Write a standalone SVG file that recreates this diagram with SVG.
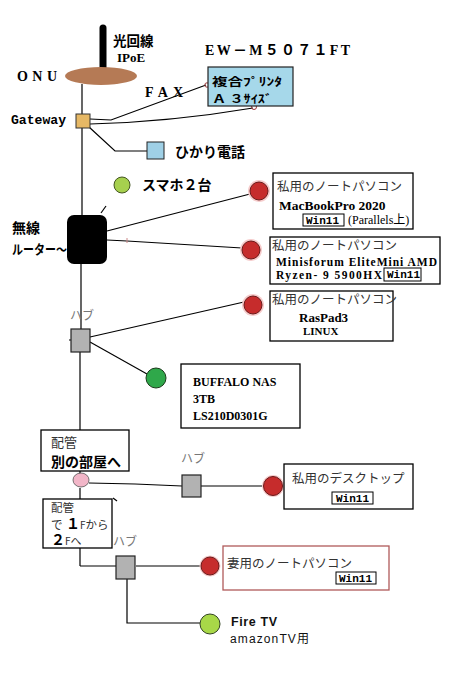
<svg xmlns="http://www.w3.org/2000/svg" width="460" height="689" viewBox="0 0 460 689">
<style>
.ln{stroke:#000;stroke-width:1.2;fill:none}
.bx{fill:#fff;stroke:#000;stroke-width:1.3}
.hub{fill:#b2b2b2;stroke:#222;stroke-width:1.2}
.red{fill:#c62c2c;stroke:#6a1a1a;stroke-width:1}
.halo{fill:#f6cccc}
.jb{font-family:"Noto Sans CJK JP","Liberation Sans",sans-serif;font-weight:bold;fill:#000}
.jn{font-family:"Noto Sans CJK JP","Liberation Sans",sans-serif;fill:#333}
.sb{font-family:"Liberation Serif","Noto Sans CJK JP",serif;font-weight:bold;fill:#000}
.sn{font-family:"Liberation Serif","Noto Sans CJK JP",serif;fill:#000}
.mb{font-family:"Liberation Mono",monospace;font-weight:bold;fill:#000}
.hl{font-family:"Noto Sans CJK JP",sans-serif;fill:#777;font-size:12px}
.win{fill:#fff;stroke:#000;stroke-width:1}
.wt{font-family:"Liberation Mono",monospace;font-weight:bold;font-size:11px;fill:#000}
.ls{font-family:"Liberation Sans","Noto Sans CJK JP",sans-serif;fill:#111}
</style>
<g id="connectors">
<line class="ln" x1="82" y1="84" x2="82" y2="114"/>
<line class="ln" x1="82" y1="128" x2="82" y2="215"/>
<line class="ln" x1="81" y1="264" x2="81" y2="329"/>
<line class="ln" x1="80" y1="352" x2="80" y2="474"/>
<line class="ln" x1="80" y1="488" x2="80" y2="566"/>
<polyline class="ln" points="80,566 116,566"/>
<polyline class="ln" points="90,119 111,120 206,85"/>
<circle cx="207" cy="85" r="2.2" fill="none" stroke="#a03c3c" stroke-width="1"/>
<path class="ln" d="M90,124 Q170,122 253,108"/>
<circle cx="254" cy="107" r="2.5" fill="none" stroke="#a03c3c" stroke-width="1"/>
<polyline class="ln" points="89,127 115,151 147,151"/>
<line class="ln" x1="101" y1="213" x2="106" y2="206"/>
<line class="ln" x1="107" y1="231" x2="250" y2="194"/>
<polyline class="ln" points="107,240 127,241 242,248"/>
<line x1="127" y1="238" x2="127" y2="243" stroke="#c88" stroke-width="1"/>
<line class="ln" x1="90" y1="337" x2="244" y2="302"/>
<line class="ln" x1="90" y1="342" x2="147" y2="374"/>
<line class="ln" x1="69" y1="340" x2="71" y2="340"/>
<polyline class="ln" points="89,483 135,484 182,486"/>
<line class="ln" x1="201" y1="486" x2="264" y2="486"/>
<line class="ln" x1="113" y1="498" x2="117" y2="501"/>
<line class="ln" x1="136" y1="566" x2="201" y2="566"/>
<polyline class="ln" points="127,579 127,623 200,623"/>
</g>
<g id="antenna">
<line x1="103" y1="28" x2="103" y2="68" stroke="#000" stroke-width="7" stroke-linecap="round"/>
<text class="jb" x="113" y="46" font-size="13.5">光回線</text>
<text class="sb" x="117" y="62" font-size="13">IPoE</text>
</g>
<g id="onu">
<ellipse cx="101" cy="76" rx="36" ry="9" fill="#b57a55"/>
<text class="sb" x="17" y="81" font-size="14" textLength="40" lengthAdjust="spacing">ONU</text>
</g>
<g id="printer">
<text class="sb" x="205" y="55" font-size="14" textLength="145" lengthAdjust="spacing">EW－M５０７１FT</text>
<rect x="208" y="67" width="85" height="39" fill="#a6d8ea" stroke="#222" stroke-width="1.2"/>
<text class="jb" x="212" y="86" font-size="11.5" textLength="70" lengthAdjust="spacingAndGlyphs">複合ﾌﾟﾘﾝﾀ</text>
<text class="jb" x="212" y="103" font-size="11.5" textLength="60" lengthAdjust="spacingAndGlyphs">Ａ ３ｻｲｽﾞ</text>
<text class="sb" x="145" y="97" font-size="14" textLength="38" lengthAdjust="spacing">FAX</text>
</g>
<g id="gateway">
<rect x="76" y="114" width="14" height="14" fill="#e6b865" stroke="#333" stroke-width="1"/>
<text class="mb" x="11" y="124" font-size="12" textLength="55" lengthAdjust="spacingAndGlyphs">Gateway</text>
</g>
<g id="hikari">
<rect x="147" y="142" width="17" height="17" fill="#9fd0e6" stroke="#222" stroke-width="1"/>
<text class="jb" x="175" y="157" font-size="14">ひかり電話</text>
</g>
<g id="smartphone">
<circle cx="122" cy="185" r="8" fill="#a6d04e" stroke="#445522" stroke-width="1"/>
<text class="jb" x="142" y="190" font-size="14">スマホ２台</text>
</g>
<g id="router">
<rect x="67" y="215" width="40" height="49" rx="7" fill="#000"/>
<text class="jb" x="12" y="233" font-size="14">無線</text>
<text class="jb" x="12" y="253.5" font-size="13" textLength="55" lengthAdjust="spacingAndGlyphs">ルーター～</text>
</g>
<g id="macbook">
<circle class="halo" cx="259" cy="191" r="11"/>
<circle class="red" cx="259" cy="191" r="9"/>
<rect class="bx" x="273" y="173" width="140" height="56"/>
<text class="jn" x="277" y="191" font-size="12.5">私用のノートパソコン</text>
<text class="sb" x="279" y="210" font-size="13.5">MacBookPro 2020</text>
<rect class="win" x="303" y="214" width="41" height="12"/>
<text class="wt" x="306" y="224">Win11</text>
<text class="sn" x="348" y="224" font-size="12">(Parallels上)</text>
</g>
<g id="minisforum">
<circle class="halo" cx="251" cy="250" r="11"/>
<circle class="red" cx="251" cy="250" r="9"/>
<rect class="bx" x="270" y="237" width="170" height="47"/>
<text class="jn" x="272" y="250" font-size="12.5">私用のノートパソコン</text>
<text class="sb" x="276" y="266" font-size="11.5" textLength="161" lengthAdjust="spacing">Minisforum EliteMini AMD</text>
<text class="sb" x="276" y="279" font-size="11.5" textLength="106" lengthAdjust="spacing">Ryzen- 9 5900HX</text>
<rect class="win" x="384" y="268" width="37" height="13"/>
<text class="wt" x="387" y="278">Win11</text>
</g>
<g id="hub1">
<rect class="hub" x="71" y="329" width="19" height="23"/>
<text class="hl" x="70" y="320">ハブ</text>
</g>
<g id="raspad">
<circle class="halo" cx="253" cy="305" r="11"/>
<circle class="red" cx="253" cy="305" r="9"/>
<rect class="bx" x="270" y="291" width="123" height="50"/>
<text class="jn" x="272" y="304" font-size="12.5">私用のノートパソコン</text>
<text class="sb" x="299" y="322" font-size="13">RasPad3</text>
<text class="sb" x="303" y="335" font-size="11">LINUX</text>
</g>
<g id="nas">
<circle cx="156" cy="378" r="10" fill="#2fa84a" stroke="#1a3a1a" stroke-width="1"/>
<rect class="bx" x="181" y="364" width="119" height="64"/>
<text class="sb" x="193" y="386" font-size="12">BUFFALO NAS</text>
<text class="sb" x="193" y="403" font-size="12">3TB</text>
<text class="sb" x="193" y="420" font-size="12">LS210D0301G</text>
</g>
<g id="pipe1">
<rect class="bx" x="41" y="430" width="88" height="41" fill="none"/>
<text class="jn" x="51" y="447" font-size="13">配管</text>
<text class="jb" x="51" y="467" font-size="14">別の部屋へ</text>
<ellipse cx="81" cy="480" rx="8" ry="7" fill="#f2b6c8" stroke="#555" stroke-width="0.8"/>
</g>
<g id="hub2">
<rect class="hub" x="182" y="475" width="19" height="22"/>
<text class="hl" x="181" y="463">ハブ</text>
</g>
<g id="desktop">
<circle class="halo" cx="273" cy="486" r="11"/>
<circle class="red" cx="273" cy="486" r="9.5"/>
<rect class="bx" x="284" y="464" width="129" height="45"/>
<text class="jn" x="292" y="483" font-size="12.5">私用のデスクトップ</text>
<rect class="win" x="332" y="492" width="41" height="12"/>
<text class="wt" x="336" y="502">Win11</text>
</g>
<g id="pipe2">
<rect class="bx" x="43" y="499" width="69" height="49" fill="none"/>
<text x="51" y="512" class="jn" font-size="11.5">配管</text>
<text x="51" y="529" class="jn" font-size="11.5">で<tspan class="sb" font-size="14" fill="#000"> １</tspan><tspan font-size="10">F</tspan>から</text>
<text x="51" y="545" class="jn" font-size="11"><tspan class="sb" font-size="14" fill="#000">２</tspan><tspan font-size="10">F</tspan>へ</text>
</g>
<g id="hub3">
<rect class="hub" x="116" y="556" width="19" height="23"/>
<text class="hl" x="113" y="546">ハブ</text>
</g>
<g id="wife">
<circle class="halo" cx="210" cy="566" r="10.5"/>
<circle class="red" cx="210" cy="566" r="9"/>
<rect x="223" y="546" width="166" height="44" fill="#fff" stroke="#b05a5a" stroke-width="1.3"/>
<text class="jn" x="227" y="568" font-size="12.5">妻用のノートパソコン</text>
<rect class="win" x="336" y="572" width="40" height="12"/>
<text class="wt" x="339" y="582">Win11</text>
</g>
<g id="firetv">
<circle cx="210" cy="624" r="10" fill="#a8d848" stroke="#334422" stroke-width="1"/>
<text class="ls" x="231" y="626" font-size="12.5" font-weight="bold" textLength="46" lengthAdjust="spacing">Fire TV</text>
<text class="ls" x="230" y="643" font-size="12" textLength="79" lengthAdjust="spacing">amazonTV用</text>
</g>
</svg>
